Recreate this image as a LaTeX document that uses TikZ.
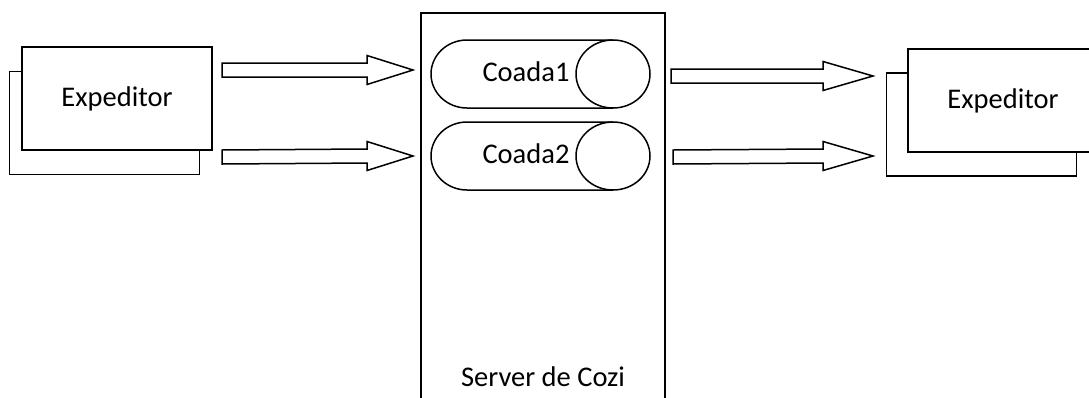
\documentclass[tikz,border=0pt]{standalone}
\usepackage{fontspec}
\setmainfont{Carlito}
\usetikzlibrary{calc}

\tikzset{
  sheet/.style={draw, line width=1.8pt, fill=white, minimum width=190pt, minimum height=103pt, inner sep=0pt},
  lbl/.style={inner sep=0pt, font=\fontsize{28.5}{33}\selectfont},
  blockarrow/.style={draw, line width=1.5pt, fill=white, line join=miter}
}

% fat hollow arrow from #1 to tip #2, head length #3
\newcommand{\fatarrow}[3]{%
  \draw[blockarrow] ($(#1)+(0,-7)$) -- ($(#2)+(-#3,-7)$) -- ($(#2)+(-#3,-14.5)$) -- (#2)
    -- ($(#2)+(-#3,14.5)$) -- ($(#2)+(-#3,7)$) -- ($(#1)+(0,7)$) -- cycle;}

\begin{document}
\begin{tikzpicture}[x=1pt, y=-1pt]
  \useasboundingbox (0,0) rectangle (1089,397);
  \clip (0,0) rectangle (1089,397);

  % senders (left)
  \node[sheet] (sendLback) at (104.5,123) {};
  \node[sheet] (sendL) at (117,98.5) {};
  \node[lbl] (sendLtxt) at (117,99) {Expeditor};

  % senders (right)
  \node[sheet] (sendRback) at (981.5,124.5) {};
  \node[sheet] (sendR) at (1003,100.5) {};
  \node[lbl] (sendRtxt) at (1003,101) {Expeditor};

  % queue server
  \node[draw, line width=1.8pt, minimum width=244pt, minimum height=420pt, anchor=north] (server) at (543,12) {};
  \node[lbl] (servertxt) at (543,377) {Server de Cozi};

  % queues
  \draw[line width=1.5pt] (613,40) -- (467,40) arc[start angle=270, end angle=90, x radius=36, y radius=34] -- (613,108);
  \draw[line width=1.5pt] (613,74) ellipse [x radius=37, y radius=34];
  \node[lbl] (q1) at (526,72) {Coada1};

  \draw[line width=1.5pt] (613,122) -- (467,122) arc[start angle=270, end angle=90, x radius=36, y radius=34] -- (613,190);
  \draw[line width=1.5pt] (613,156) ellipse [x radius=37, y radius=34];
  \node[lbl] (q2) at (526,154) {Coada2};

  % arrows
  \coordinate (in1s) at (222,70);  \coordinate (in1t) at (413,70);
  \coordinate (in2s) at (222,157); \coordinate (in2t) at (413,156);
  \coordinate (out1s) at (671,76);  \coordinate (out1t) at (873,76);
  \coordinate (out2s) at (673,157); \coordinate (out2t) at (873,156);
  \fatarrow{in1s}{in1t}{46}
  \fatarrow{in2s}{in2t}{46}
  \fatarrow{out1s}{out1t}{50}
  \fatarrow{out2s}{out2t}{50}
\end{tikzpicture}
\end{document}
